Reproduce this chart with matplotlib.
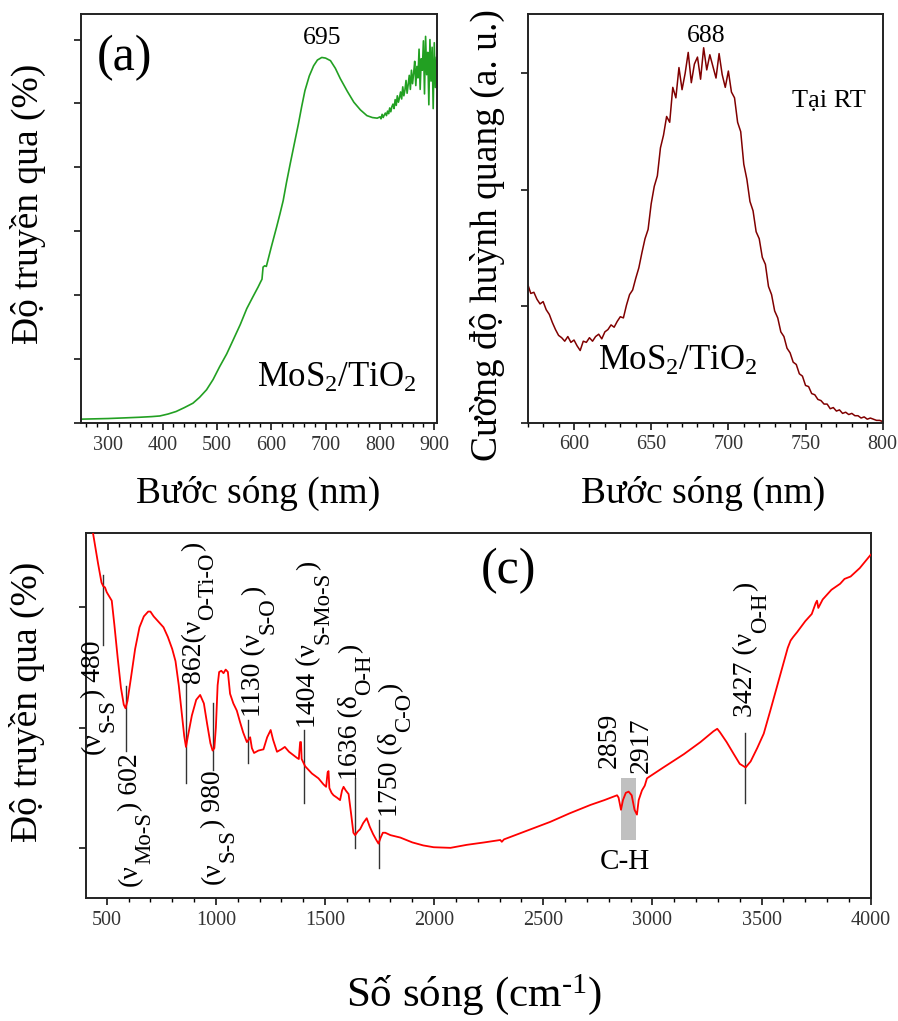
import matplotlib
matplotlib.use("Agg")
import matplotlib.pyplot as plt
from matplotlib.ticker import MultipleLocator, NullFormatter
from matplotlib.transforms import offset_copy

plt.rcParams['font.family'] = ['Liberation Serif', 'DejaVu Serif']
plt.rcParams['mathtext.fontset'] = 'custom'
plt.rcParams['mathtext.rm'] = 'Liberation Serif'
plt.rcParams['mathtext.it'] = 'Liberation Serif:italic'
plt.rcParams['mathtext.bf'] = 'Liberation Serif:bold'

# ---------------- Data: (a) UV-Vis transmission ----------------
wl_a = [250, 275, 300, 330, 358, 380, 395, 410, 425, 440, 456, 468, 481, 493, 505, 518,
        530, 543, 555, 566, 576, 580, 583, 585, 588, 591, 600, 610, 616, 622, 628, 635,
        642, 650, 656, 662, 670, 678, 685, 693, 700, 709, 718, 727, 740, 752, 764, 776,
        786, 795,
        800, 802, 804, 806, 808, 810, 812, 814, 816, 818, 820, 822, 824, 826, 828,
        830, 832, 834, 836, 838, 840, 842, 844, 846, 848, 850, 852, 854, 856, 858,
        860, 862, 864, 866, 868, 870, 872, 874, 876, 878, 880, 882, 884, 886, 888,
        890, 892, 894, 896, 898, 900, 902, 904]
tr_a = [0.06, 0.065, 0.07, 0.08, 0.09, 0.10, 0.11, 0.14, 0.18, 0.24, 0.31, 0.40, 0.52, 0.68, 0.88, 1.08,
        1.30, 1.54, 1.79, 1.97, 2.13, 2.20, 2.25, 2.44, 2.46, 2.45, 2.75, 3.07, 3.27, 3.48, 3.76, 4.06,
        4.35, 4.68, 4.95, 5.20, 5.43, 5.59, 5.68, 5.72, 5.71, 5.67, 5.55, 5.39, 5.19, 5.02, 4.90, 4.81,
        4.78, 4.77,
        4.79, 4.76, 4.83, 4.78, 4.82, 4.85, 4.81, 4.88, 4.84, 4.93, 4.87, 4.95, 4.99, 4.92, 5.06,
        4.97, 5.12, 5.02, 5.09, 5.18, 5.07, 5.26, 5.12, 5.21, 5.36, 5.16, 5.30, 5.44, 5.22, 5.52,
        5.31, 5.47, 5.66, 5.28, 5.58, 5.40, 5.85, 5.22, 5.70, 5.52, 5.98, 5.15, 6.05, 5.45, 5.80,
        4.98, 6.00, 5.35, 5.88, 4.92, 5.95, 5.25, 5.72]

# ---------------- Data: (b) Photoluminescence ----------------
wl_b = list(range(570, 801, 2))
pl_b = [1.19, 1.11, 1.12, 1.06, 1.02, 1.04, 0.97, 0.93, 0.86, 0.80,
        0.75, 0.73, 0.70, 0.74, 0.69, 0.71, 0.66, 0.62, 0.70, 0.69,
        0.73, 0.70, 0.74, 0.76, 0.72, 0.78, 0.80, 0.84, 0.82, 0.87,
        0.91, 0.90, 1.01, 1.10, 1.14, 1.24, 1.33, 1.46, 1.58, 1.66,
        1.88, 2.03, 2.12, 2.36, 2.47, 2.63, 2.58, 2.88, 2.79, 3.05,
        2.86, 3.00, 3.18, 2.92, 3.08, 3.14, 2.95, 3.22, 3.03, 3.16,
        3.06, 2.96, 3.17, 2.99, 2.88, 3.02, 2.84, 2.79, 2.58, 2.50,
        2.22, 2.09, 1.90, 1.82, 1.64, 1.58, 1.42, 1.36, 1.17, 1.10,
        0.96, 0.90, 0.78, 0.74, 0.64, 0.60, 0.52, 0.50, 0.42, 0.40,
        0.32, 0.31, 0.25, 0.24, 0.20, 0.19, 0.16, 0.16, 0.12, 0.13,
        0.10, 0.11, 0.08, 0.09, 0.07, 0.08, 0.06, 0.06, 0.04, 0.05,
        0.03, 0.04, 0.03, 0.02, 0.02, 0.01]

# ---------------- Data: (c) FTIR ----------------
wn_c = [415, 437, 460, 476, 484, 492, 500, 510, 523, 535, 550, 565, 578, 586, 595, 610, 630,
        650, 670, 690, 700, 715, 740, 760, 780, 800, 815, 830, 845, 855, 863, 872, 890,
        910, 928, 945, 960, 975, 985, 993, 1000, 1008, 1015, 1025, 1035, 1045, 1055, 1065,
        1080, 1096, 1110, 1125, 1142, 1150, 1157, 1165, 1175, 1195, 1218, 1235, 1251, 1262,
        1280, 1300, 1316, 1335, 1371, 1380, 1386, 1390, 1393, 1409, 1440, 1470, 1493, 1505,
        1512, 1516, 1520, 1530, 1539, 1555, 1569, 1578, 1585, 1595, 1608, 1620, 1630, 1638,
        1650, 1661, 1675, 1691, 1705, 1720, 1735, 1745, 1755, 1765, 1776, 1800, 1845, 1900,
        1950, 1998, 2075, 2150, 2230, 2303, 2310, 2320, 2400, 2532, 2620, 2716, 2780, 2838,
        2845, 2856, 2865, 2878, 2891, 2905, 2918, 2929, 2937, 2952, 2965, 2975, 2983, 3050,
        3144, 3220, 3280, 3297, 3310, 3340, 3373, 3400, 3427, 3450, 3480, 3510, 3540, 3571,
        3600, 3620, 3633, 3645, 3663, 3700, 3730, 3748, 3754, 3760, 3780, 3820, 3860, 3880,
        3908, 3950, 4000]
tr_c = [48.2, 46.1, 43.6, 42.0, 41.7, 41.6, 41.2, 40.9, 40.5, 38.5, 35.8, 33.3, 31.9, 31.6, 32.2, 34.0, 36.5,
        38.3, 39.2, 39.6, 39.6, 39.2, 38.7, 38.3, 37.5, 36.5, 35.5, 33.5, 31.0, 29.3, 28.4, 29.3, 31.0,
        32.3, 32.7, 32.0, 30.3, 28.7, 28.1, 28.3, 30.0, 33.5, 34.6, 34.7, 34.5, 34.8, 34.6, 32.8,
        32.0, 31.4, 30.5, 29.6, 28.8, 29.0, 29.2, 28.3, 27.9, 28.1, 28.2, 29.2, 29.8, 29.0,
        28.0, 28.2, 28.4, 28.0, 27.5, 27.4, 28.8, 28.8, 27.4, 26.8, 26.2, 25.8, 25.3, 25.1,
        26.3, 26.4, 25.0, 24.6, 24.4, 24.2, 24.0, 24.8, 25.1, 24.8, 24.5, 22.8, 21.3, 21.1,
        21.4, 21.6, 22.1, 22.5, 21.8, 21.2, 20.7, 20.4, 20.9, 21.3, 21.3, 21.1, 20.9, 20.5,
        20.25, 20.1, 20.05, 20.3, 20.5, 20.7, 20.55, 20.75, 21.3, 22.2, 22.9, 23.6, 24.0, 24.4,
        24.2, 23.2, 24.0, 24.6, 24.7, 24.4, 23.2, 22.8, 24.0, 24.8, 25.2, 25.8, 25.9, 26.7,
        27.8, 28.8, 29.7, 29.9, 29.6, 28.8, 27.8, 27.0, 26.7, 27.2, 28.3, 29.5, 31.4, 33.4,
        35.3, 36.6, 37.2, 37.5, 37.9, 38.8, 39.4, 40.3, 40.5, 39.9, 40.6, 41.4, 41.9, 42.3,
        42.5, 43.2, 44.3]

# FTIR band annotations: label pieces (text, is_subscript), text anchor, marker lines
band_pieces = [
    [('(ν', 0), ('S-S', 1), (') 480', 0)],
    [('(ν', 0), ('Mo-S', 1), (') 602', 0)],
    [('862(ν', 0), ('O-Ti-O', 1), (')', 0)],
    [('(ν', 0), ('S-S', 1), (') 980', 0)],
    [('1130 (ν', 0), ('S-O', 1), (')', 0)],
    [('1404 (ν', 0), ('S-Mo-S', 1), (')', 0)],
    [('1636 (δ', 0), ('O-H', 1), (')', 0)],
    [('1750 (δ', 0), ('C-O', 1), (')', 0)],
    [('2859', 0)],
    [('2917', 0)],
    [('3427 (ν', 0), ('O-H', 1), (')', 0)],
]
band_text_x = [469, 639, 928, 1019, 1203, 1455, 1647, 1831, 2830, 2977, 3459]
band_text_y = [37.2, 27.9, 33.7, 26.5, 30.9, 30.0, 25.65, 22.6, 26.65, 26.25, 30.9]
band_anchor = ['end', 'end', 'start', 'end', 'start', 'start', 'start', 'start', 'start', 'start', 'start']
line_x = [482, 588, 863, 989, 1146, 1405, 1638, 1748, 3426]
line_y0 = [42.6, 33.4, 33.7, 32.0, 30.6, 29.8, 25.8, 22.35, 29.55]
line_y1 = [36.85, 28.1, 25.4, 26.5, 27.1, 23.75, 20.0, 18.4, 23.75]

W, H = 898, 1021
fig = plt.figure(figsize=(W / 100, H / 100), dpi=100)
renderer = fig.canvas.get_renderer()


def frac_box(l, t, r, b):
    return [l / W, 1 - b / H, (r - l) / W, (b - t) / H]


def style(ax):
    for s in ax.spines.values():
        s.set_linewidth(1.4)
        s.set_color('#222222')
    ax.tick_params(which='major', direction='out', length=5, width=1.1,
                   labelsize=14.5, labelcolor='#333333', pad=4)
    ax.tick_params(which='minor', direction='out', length=3, width=1.0)
    ax.yaxis.set_major_formatter(NullFormatter())


def vtext(ax, x, y, pieces, anchor, size=20, sub_ratio=0.82, sub_shift=0.48):
    widths = []
    for s, sub in pieces:
        fs = size * sub_ratio if sub else size
        t = fig.text(0, 0, s, fontsize=fs)
        widths.append(t.get_window_extent(renderer).width + (1.5 if sub else 0.0))
        t.remove()
    total = sum(widths)
    pos = 0.0 if anchor == 'start' else -total
    for (s, sub), w in zip(pieces, widths):
        fs = size * sub_ratio if sub else size
        dx = sub_shift * size if sub else 0.0
        tr = offset_copy(ax.transData, fig=fig, x=dx, y=pos * 72.0 / fig.dpi, units='points')
        ax.text(x, y, s, fontsize=fs, rotation=90, rotation_mode='anchor',
                ha='left', va='baseline', transform=tr, zorder=4)
        pos += w


# (a)
axA = fig.add_axes(frac_box(81, 14, 437, 423))
axA.plot(wl_a, tr_a, color='#22a022', lw=1.2)
axA.set_xlim(250, 905)
axA.set_ylim(0, 6.4)
axA.xaxis.set_major_locator(MultipleLocator(100))
axA.xaxis.set_minor_locator(MultipleLocator(20))
axA.yaxis.set_major_locator(MultipleLocator(1))
style(axA)
axA.text(330, 5.72, '(a)', fontsize=36, ha='center', va='center')
axA.text(694, 6.03, '695', fontsize=18.5, ha='center', va='center')
axA.text(720, 0.56, r'MoS$_2$/TiO$_2$', fontsize=25, ha='center', va='baseline')

# (b)
axB = fig.add_axes(frac_box(527.7, 14, 882.7, 422.7))
axB.plot(wl_b, pl_b, color='#800000', lw=1.1)
axB.set_xlim(570, 800)
axB.set_ylim(0, 3.51)
axB.xaxis.set_major_locator(MultipleLocator(50))
axB.xaxis.set_minor_locator(MultipleLocator(10))
axB.yaxis.set_major_locator(MultipleLocator(1))
style(axB)
axB.text(685.6, 3.32, '688', fontsize=18.5, ha='center', va='center')
axB.text(765, 2.71, 'Tại RT', fontsize=19, ha='center', va='baseline')
axB.text(667.5, 0.453, r'MoS$_2$/TiO$_2$', fontsize=25, ha='center', va='baseline')

# (c)
axC = fig.add_axes(frac_box(86, 533, 870.7, 898))
axC.axvspan(2856, 2926, ymin=(20.7 - 15.9) / 30.2, ymax=(25.8 - 15.9) / 30.2,
            color='#c0c0c0', lw=0, zorder=1)
axC.plot(wn_c, tr_c, color='#ff0000', lw=1.3, zorder=3)
axC.set_xlim(405, 4000)
axC.set_ylim(15.9, 46.1)
axC.xaxis.set_major_locator(MultipleLocator(500))
axC.xaxis.set_minor_locator(MultipleLocator(100))
axC.yaxis.set_major_locator(MultipleLocator(10))
style(axC)
for x, y0, y1 in zip(line_x, line_y0, line_y1):
    axC.plot([x, x], [y0, y1], color='#333333', lw=1.0, zorder=2)
for pieces, x, y, anc in zip(band_pieces, band_text_x, band_text_y, band_anchor):
    vtext(axC, x, y, pieces, anc)
axC.text(2876, 18.87, 'C-H', fontsize=21, ha='center', va='center')
axC.text(2340, 43.0, '(c)', fontsize=36, ha='center', va='center')

# axis labels
fig.text(28 / W, 1 - 204 / H, 'Độ truyền qua (%)', fontsize=27, rotation=90, ha='center', va='center')
fig.text(487 / W, 1 - 235 / H, 'Cường độ huỳnh quang (a. u.)', fontsize=27, rotation=90, ha='center', va='center')
fig.text(27 / W, 1 - 702 / H, 'Độ truyền qua (%)', fontsize=27, rotation=90, ha='center', va='center')
fig.text(258 / W, 1 - 493 / H, 'Bước sóng (nm)', fontsize=27, ha='center', va='center')
fig.text(703 / W, 1 - 493 / H, 'Bước sóng (nm)', fontsize=27, ha='center', va='center')
fig.text(474 / W, 1 - 995 / H, r'Số sóng (cm$^{\text{-1}}$)', fontsize=31, ha='center', va='center')

fig.savefig('out.png', dpi=100, facecolor='white')
